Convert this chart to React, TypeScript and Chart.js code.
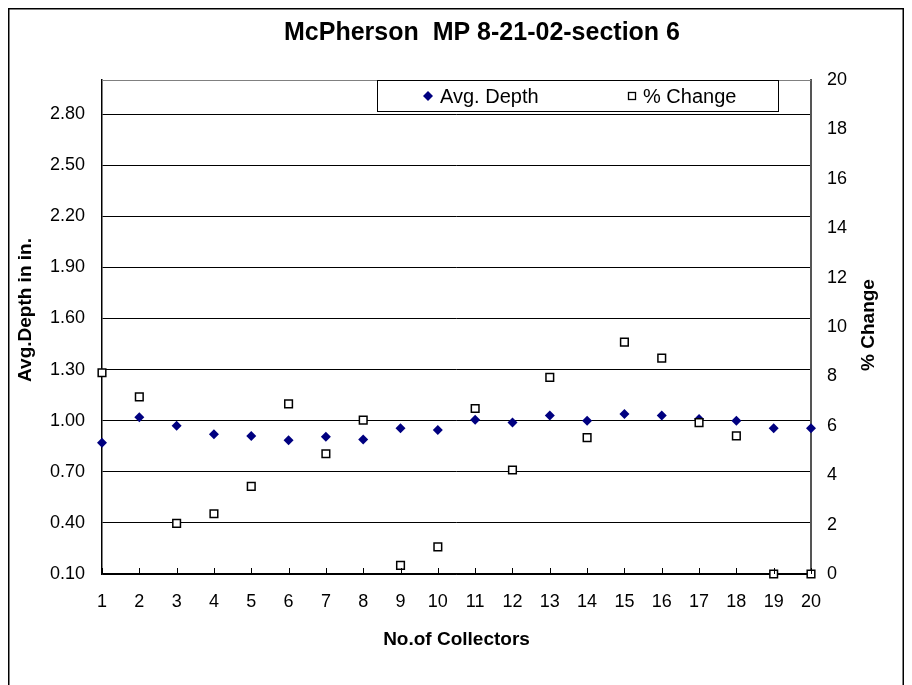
import React, { useEffect, useRef } from "react";
import { Chart, registerables } from "chart.js";

Chart.register(...registerables);

const FONT = "'Liberation Sans', Arial, sans-serif";

const collectors = [1, 2, 3, 4, 5, 6, 7, 8, 9, 10, 11, 12, 13, 14, 15, 16, 17, 18, 19, 20];
const avgDepth = [0.87, 1.02, 0.97, 0.92, 0.91, 0.885, 0.905, 0.89, 0.955, 0.945, 1.005, 0.99, 1.03, 1.0, 1.04, 1.03, 1.01, 1.0, 0.955, 0.955];
const pctChange = [8.15, 7.17, 2.05, 2.44, 3.55, 6.89, 4.87, 6.23, 0.35, 1.1, 6.7, 4.21, 7.96, 5.52, 9.39, 8.74, 6.13, 5.59, 0, 0];
const depthTicks = [0.1, 0.4, 0.7, 1.0, 1.3, 1.6, 1.9, 2.2, 2.5, 2.8];
const pctTicks = [0, 2, 4, 6, 8, 10, 12, 14, 16, 18, 20];

const titleText = "McPherson  MP 8-21-02-section 6";
const xTitle = "No.of Collectors";
const yTitle = "Avg.Depth in in.";
const y2Title = "% Change";
const seriesNames = ["Avg. Depth", "% Change"];

const W = 896;
const H = 677;

const decorPlugin = {
  id: "decor",
  beforeDraw(chart: any) {
    const ctx = chart.ctx;
    ctx.save();
    ctx.fillStyle = "#fff";
    ctx.fillRect(0, 0, W, H);
    ctx.restore();
  },
  afterDraw(chart: any) {
    const ctx = chart.ctx;
    const a = chart.chartArea;
    const xs = chart.scales.x;
    ctx.save();
    // outer frame
    ctx.strokeStyle = "#000";
    ctx.lineWidth = 1.5;
    ctx.beginPath();
    ctx.moveTo(0.75, H + 5);
    ctx.lineTo(0.75, 0.75);
    ctx.lineTo(W - 0.75, 0.75);
    ctx.lineTo(W - 0.75, H + 5);
    ctx.stroke();

    // top border of plot
    ctx.strokeStyle = "#808080";
    ctx.lineWidth = 1;
    ctx.beginPath();
    ctx.moveTo(a.left, a.top + 0.5);
    ctx.lineTo(a.right, a.top + 0.5);
    ctx.stroke();

    // inside tick marks on x axis
    ctx.strokeStyle = "#000";
    ctx.lineWidth = 1;
    for (const c of collectors) {
      const px = Math.round(xs.getPixelForValue(c)) + 0.5;
      ctx.beginPath();
      ctx.moveTo(px, a.bottom);
      ctx.lineTo(px, a.bottom - 6);
      ctx.stroke();
    }

    // title
    ctx.fillStyle = "#000";
    ctx.textAlign = "center";
    ctx.textBaseline = "middle";
    ctx.font = `bold 25px ${FONT}`;
    ctx.fillText(titleText, 474, 25);

    // axis titles
    ctx.font = `bold 19px ${FONT}`;
    ctx.fillText(xTitle, (a.left + a.right) / 2, 632);
    ctx.save();
    ctx.translate(18, 302);
    ctx.rotate(-Math.PI / 2);
    ctx.fillText(yTitle, 0, 0);
    ctx.restore();
    ctx.save();
    ctx.translate(861, 317);
    ctx.rotate(-Math.PI / 2);
    ctx.fillText(y2Title, 0, 0);
    ctx.restore();

    // legend
    ctx.fillStyle = "#fff";
    ctx.fillRect(369, 72, 401, 31);
    ctx.strokeStyle = "#000";
    ctx.lineWidth = 1;
    ctx.strokeRect(369.5, 72.5, 401, 31);
    // diamond
    ctx.fillStyle = "#000080";
    ctx.beginPath();
    ctx.moveTo(420, 83);
    ctx.lineTo(425, 88);
    ctx.lineTo(420, 93);
    ctx.lineTo(415, 88);
    ctx.closePath();
    ctx.fill();
    // square
    ctx.fillStyle = "#fff";
    ctx.fillRect(620.5, 84.5, 7, 7);
    ctx.strokeStyle = "#000";
    ctx.lineWidth = 1.3;
    ctx.strokeRect(620.5, 84.5, 7, 7);
    ctx.fillStyle = "#000";
    ctx.textAlign = "left";
    ctx.font = `20px ${FONT}`;
    ctx.fillText(seriesNames[0], 432, 89);
    ctx.fillText(seriesNames[1], 635, 89);
    ctx.restore();
  },
};

export default function App() {
  const ref = useRef<HTMLCanvasElement>(null);
  useEffect(() => {
    if (!ref.current) return;
    Chart.defaults.font.family = FONT;
    const chart = new Chart(ref.current, {
      type: "scatter",
      data: {
        datasets: [
          {
            label: seriesNames[0],
            data: collectors.map((c, i) => ({ x: c, y: avgDepth[i] })),
            yAxisID: "y",
            pointStyle: "rectRot",
            pointRadius: 5,
            backgroundColor: "#000080",
            borderColor: "#000080",
            borderWidth: 0,
            clip: false,
            order: 1,
          },
          {
            label: seriesNames[1],
            data: collectors.map((c, i) => ({ x: c, y: pctChange[i] })),
            yAxisID: "y2",
            pointStyle: "rect",
            pointRadius: 5.4,
            backgroundColor: "#fff",
            borderColor: "#000",
            borderWidth: 1.5,
            clip: false,
            order: 0,
          },
        ],
      },
      options: {
        responsive: false,
        animation: false,
        devicePixelRatio: 1,
        layout: { padding: { top: 72, left: 0, right: 0, bottom: 0 } },
        plugins: {
          legend: { display: false },
          title: { display: false },
          tooltip: { enabled: false },
        },
        scales: {
          x: {
            type: "linear",
            position: "bottom",
            min: 1,
            max: 20,
            afterBuildTicks: (s: any) => {
              s.ticks = collectors.map((v) => ({ value: v }));
            },
            ticks: {
              padding: 17,
              color: "#000",
              font: { size: 18, family: FONT },
              maxRotation: 0,
              autoSkip: false,
            },
            grid: { display: false, drawTicks: false },
            border: { display: true, color: "#000", width: 1.5 },
            afterFit: (s: any) => {
              s.height = 111;
            },
          },
          y: {
            type: "linear",
            position: "left",
            min: 0.1,
            max: 3.0,
            afterBuildTicks: (s: any) => {
              s.ticks = depthTicks.map((v) => ({ value: v }));
            },
            ticks: {
              padding: 17,
              color: "#000",
              font: { size: 18, family: FONT },
              callback: (v: any) => Number(v).toFixed(2),
            },
            grid: { color: "#000", lineWidth: 1, drawTicks: false },
            border: { display: true, color: "#000", width: 1.5 },
            afterFit: (s: any) => {
              s.width = 94;
            },
          },
          y2: {
            type: "linear",
            position: "right",
            min: 0,
            max: 20,
            afterBuildTicks: (s: any) => {
              s.ticks = pctTicks.map((v) => ({ value: v }));
            },
            ticks: {
              padding: 16,
              color: "#000",
              font: { size: 18, family: FONT },
            },
            grid: { display: false, drawOnChartArea: false, drawTicks: false },
            border: { display: true, color: "#555", width: 2 },
            afterFit: (s: any) => {
              s.width = W - 803;
            },
          },
        },
      },
      plugins: [decorPlugin],
    });
    return () => chart.destroy();
  }, []);
  return (
    <div style={{ position: "fixed", left: 8, top: 8, width: W, height: H }}>
      <canvas ref={ref} width={W} height={H} style={{ display: "block" }} />
    </div>
  );
}
